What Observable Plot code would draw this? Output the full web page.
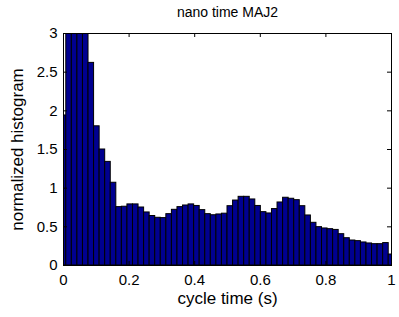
<!DOCTYPE html>
<html>
<head>
<meta charset="utf-8">
<script src="https://cdn.jsdelivr.net/npm/d3@7"></script>
<script src="https://cdn.jsdelivr.net/npm/@observablehq/plot@0.6"></script>
<style>
  html, body { margin: 0; padding: 0; background: #fff; }
</style>
</head>
<body>
<div id="chart"></div>
<script>
const title = "nano time MAJ2";
const xLabel = "cycle time (s)";
const yLabel = "normalized histogram";
const xTicks = [0, 0.2, 0.4, 0.6, 0.8, 1];
const yTicks = [0, 0.5, 1, 1.5, 2, 2.5, 3];
// histogram values, one per bin (60 bins, centred from 0 to 1)
const values = [
  1.94, 3.5, 3.6, 3.5, 3.3, 2.62, 1.80, 1.50, 1.34, 1.07,
  0.755, 0.76, 0.79, 0.79, 0.75, 0.686, 0.64, 0.617, 0.613, 0.664,
  0.72, 0.755, 0.776, 0.79, 0.77, 0.716, 0.664, 0.65, 0.66, 0.67,
  0.767, 0.84, 0.888, 0.888, 0.854, 0.77, 0.69, 0.673, 0.73, 0.815,
  0.876, 0.863, 0.845, 0.767, 0.647, 0.552, 0.496, 0.479, 0.47, 0.46,
  0.405, 0.353, 0.323, 0.315, 0.298, 0.285, 0.276, 0.276, 0.29, 0.142
];
const binWidth = 1 / (values.length - 1);
const bins = values.map((v, i) => ({
  x1: i * binWidth - binWidth / 2,
  x2: i * binWidth + binWidth / 2,
  v
}));

const W = 399, H = 317;
const mL = 63, mR = 8, mT = 33, mB = 52;
const fw = W - mL - mR, fh = H - mT - mB;
const tl = 4;

const chart = Plot.plot({
  width: W, height: H,
  marginLeft: mL, marginRight: mR, marginTop: mT, marginBottom: mB,
  style: { fontFamily: "'Liberation Sans', Arial, sans-serif", fontSize: "15px", color: "black", background: "white" },
  x: { domain: [0, 1], ticks: xTicks, tickFormat: d => String(d), tickSize: 0, tickPadding: 9, label: null },
  y: { domain: [0, 3], ticks: yTicks, tickFormat: d => String(d), tickSize: 0, tickPadding: 6, label: null },
  marks: [
    Plot.rectY(bins, { x1: "x1", x2: "x2", y: "v", fill: "#000090", stroke: "black", strokeWidth: 1, clip: true }),
    Plot.tickX(xTicks, { x: d => d, insetTop: fh - tl, stroke: "black" }),
    Plot.tickX(xTicks, { x: d => d, insetBottom: fh - tl, stroke: "black" }),
    Plot.tickY(yTicks, { y: d => d, insetRight: fw - tl, stroke: "black" }),
    Plot.tickY(yTicks, { y: d => d, insetLeft: fw - tl, stroke: "black" }),
    Plot.frame({ stroke: "black" }),
    Plot.text([title], { text: d => d, frameAnchor: "top", dy: -21, lineAnchor: "middle", textAnchor: "middle", fontSize: 14 }),
    Plot.text([xLabel], { text: d => d, frameAnchor: "bottom", dy: 33, lineAnchor: "middle", textAnchor: "middle", fontSize: 17 }),
    Plot.text([yLabel], { text: d => d, frameAnchor: "left", dx: -46, rotate: -90, lineAnchor: "middle", textAnchor: "middle", fontSize: 17 })
  ]
});
document.getElementById("chart").appendChild(chart);
</script>
</body>
</html>
